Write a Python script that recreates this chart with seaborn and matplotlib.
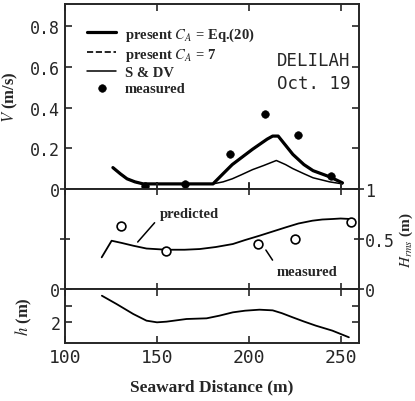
import numpy as np
import pandas as pd
import matplotlib
matplotlib.use("Agg")
import matplotlib.pyplot as plt
import seaborn as sns

# ---------------- data ----------------
# top panel: longshore current V (m/s)
x_eq20 = [126, 130, 133.7, 138, 142.5, 155, 170, 180.5, 186, 191, 202, 210, 213, 216, 220, 224, 230, 235, 244, 251]
v_eq20 = [0.105, 0.075, 0.05, 0.035, 0.025, 0.025, 0.025, 0.025, 0.075, 0.12, 0.195, 0.245, 0.26, 0.26, 0.215, 0.17, 0.12, 0.09, 0.06, 0.03]
x_ca7 = [126, 130, 133.7, 138, 142.5, 155, 170, 180.5, 186, 191, 202, 210, 213, 216, 220, 224, 230, 235, 244, 251]
v_ca7 = [0.105, 0.075, 0.05, 0.035, 0.025, 0.025, 0.025, 0.025, 0.075, 0.12, 0.195, 0.245, 0.26, 0.26, 0.215, 0.17, 0.12, 0.09, 0.06, 0.03]
x_sdv = [126, 130, 133.7, 138, 142.5, 155, 170, 180.5, 186, 191, 196, 202, 208, 215, 220, 224, 230, 235, 244, 251]
v_sdv = [0.105, 0.075, 0.05, 0.035, 0.025, 0.025, 0.025, 0.025, 0.035, 0.05, 0.07, 0.095, 0.115, 0.14, 0.12, 0.10, 0.075, 0.055, 0.035, 0.025]
x_vmeas = [143.5, 165, 190, 208.7, 227, 245]
v_vmeas = [0.015, 0.025, 0.17, 0.37, 0.265, 0.065]

# middle panel: H_rms (m)
x_hpred = [119.9, 125.3, 131, 137.1, 144.3, 155.2, 165, 173.3, 182, 191.3, 198, 205.8, 213, 220.2, 227, 234.6, 240, 245.5, 250, 255.4]
h_pred = [0.317, 0.483, 0.46, 0.433, 0.405, 0.393, 0.393, 0.40, 0.42, 0.45, 0.49, 0.533, 0.575, 0.617, 0.655, 0.683, 0.695, 0.70, 0.705, 0.70]
x_hmeas = [130.2, 154.7, 205.2, 225.4, 255.4]
h_meas = [0.627, 0.38, 0.45, 0.50, 0.667]

# bottom panel: depth h (m)
x_depth = [120.0, 128, 137.1, 144.3, 150, 155.2, 166.1, 177, 184, 191.3, 198, 205.8, 213, 218, 223.9, 230, 236.5, 245.5, 254.5]
depth = [0.4, 0.9, 1.5, 1.9, 2.0, 1.96, 1.8, 1.76, 1.6, 1.4, 1.3, 1.24, 1.28, 1.45, 1.7, 1.95, 2.2, 2.5, 2.9]

v_ticks = [0, 0.2, 0.4, 0.6, 0.8]
v_ticklabels = ["0", "0.2", "0.4", "0.6", "0.8"]
h_ticks = [0, 0.5, 1]
h_ticklabels = ["0", "0.5", "1"]
d_ticks = [0, 1, 2]
d_ticklabels = ["0", "", "2"]
x_ticks = [100, 150, 200, 250]
x_ticklabels = ["100", "150", "200", "250"]

# ---------------- style ----------------
sns.set_theme(style="ticks")
plt.rcParams["font.family"] = ["Liberation Serif", "DejaVu Serif"]
plt.rcParams["axes.linewidth"] = 1.4
plt.rcParams["mathtext.fontset"] = "stix"

mono = "DejaVu Sans Mono"
tick_fs = 12
serif_kw = dict(family="Liberation Serif", weight="bold")

fig = plt.figure(figsize=(4.15, 4.02), dpi=100)
gs = fig.add_gridspec(3, 1, height_ratios=[185, 100, 54], hspace=0,
                      left=0.157, right=0.865, top=0.988, bottom=0.144)
ax1 = fig.add_subplot(gs[0])
ax2 = fig.add_subplot(gs[1], sharex=ax1)
ax3 = fig.add_subplot(gs[2], sharex=ax1)

# ---- top panel ----
df_eq = pd.DataFrame({"x": x_eq20, "v": v_eq20})
df_ca = pd.DataFrame({"x": x_ca7, "v": v_ca7})
df_sd = pd.DataFrame({"x": x_sdv, "v": v_sdv})
df_vm = pd.DataFrame({"x": x_vmeas, "v": v_vmeas})
sns.lineplot(data=df_eq, x="x", y="v", ax=ax1, color="black", lw=2.3, sort=False,
             label=r"present $C_A$ = Eq.(20)")
sns.lineplot(data=df_ca, x="x", y="v", ax=ax1, color="black", lw=1.2, ls="--", sort=False,
             label=r"present $C_A$ = 7")
sns.lineplot(data=df_sd, x="x", y="v", ax=ax1, color="black", lw=1.1, sort=False,
             label="S & DV")
sns.scatterplot(data=df_vm, x="x", y="v", ax=ax1, color="black", s=30, edgecolor="black",
                label="measured", zorder=5)
ax1.set_ylim(0, 0.91)
ax1.set_xlim(100, 260)
ax1.set_yticks(v_ticks)
ax1.set_yticklabels(v_ticklabels, family=mono, fontsize=tick_fs)
ax1.set_xticks(x_ticks)
ax1.tick_params(axis="both", direction="in", length=5, width=1.2, pad=4,
                top=True, right=True, labelbottom=False)
ax1.set_xlabel("")
ax1.set_ylabel(r"$V$ (m/s)", fontsize=12, **serif_kw)
ax1.yaxis.set_label_coords(-0.155, 0.5)
leg = ax1.legend(loc="upper left", bbox_to_anchor=(0.03, 0.955), frameon=False,
                 handlelength=2.0, handletextpad=0.6, labelspacing=0.2,
                 prop=dict(family="Liberation Serif", weight="bold", size=10.5))
ax1.text(0.72, 0.635, "DELILAH\nOct. 19", transform=ax1.transAxes, ha="left", va="center",
         family=mono, fontsize=12.5, linespacing=1.3)

# ---- middle panel ----
df_hp = pd.DataFrame({"x": x_hpred, "h": h_pred})
df_hm = pd.DataFrame({"x": x_hmeas, "h": h_meas})
sns.lineplot(data=df_hp, x="x", y="h", ax=ax2, color="black", lw=1.3, sort=False)
sns.scatterplot(data=df_hm, x="x", y="h", ax=ax2, facecolor="white", edgecolor="black",
                linewidth=1.2, s=40, zorder=5)
ax2.set_ylim(0, 1)
ax2.set_yticks(h_ticks)
ax2.set_yticklabels(h_ticklabels, family=mono, fontsize=tick_fs)
ax2.tick_params(axis="y", direction="inout", length=7, width=1.2, left=True, right=True,
                labelleft=False, labelright=True, pad=1)
ax2.tick_params(axis="x", direction="inout", length=8, width=1.2, top=True, labelbottom=False)
ax2.set_xlabel("")
ax2.yaxis.set_label_position("right")
ax2.set_ylabel(r"$H_{rms}$ (m)", fontsize=11, **serif_kw)
ax2.yaxis.set_label_coords(1.13, 0.5)
ax2.annotate("predicted", xy=(139.5, 0.47), xytext=(151.5, 0.76), textcoords="data",
             ha="left", va="center", fontsize=10.5, **serif_kw,
             arrowprops=dict(arrowstyle="-", color="black", lw=1.1, relpos=(0.0, 0.2),
                             shrinkA=2, shrinkB=0))
ax2.annotate("measured", xy=(209.3, 0.39), xytext=(215, 0.18), textcoords="data",
             ha="left", va="center", fontsize=10.5, **serif_kw,
             arrowprops=dict(arrowstyle="-", color="black", lw=1.1, relpos=(0.0, 0.9),
                             shrinkA=1, shrinkB=0))

# ---- bottom panel ----
df_d = pd.DataFrame({"x": x_depth, "d": depth})
sns.lineplot(data=df_d, x="x", y="d", ax=ax3, color="black", lw=1.3, sort=False)
ax3.set_ylim(3.25, 0)
ax3.set_yticks(d_ticks)
ax3.set_yticklabels(d_ticklabels, family=mono, fontsize=tick_fs)
ax3.set_xticks(x_ticks)
ax3.set_xticklabels(x_ticklabels, family=mono, fontsize=tick_fs + 1)
ax3.tick_params(axis="both", direction="in", length=5, width=1.2, right=True, top=True)
ax3.set_ylabel(r"$h$ (m)", fontsize=12, **serif_kw)
ax3.yaxis.set_label_coords(-0.105, 0.5)
ax3.set_xlabel("Seaward Distance (m)", fontsize=12.5, labelpad=9, **serif_kw)

fig.savefig("out.png", dpi=100, facecolor="white")
